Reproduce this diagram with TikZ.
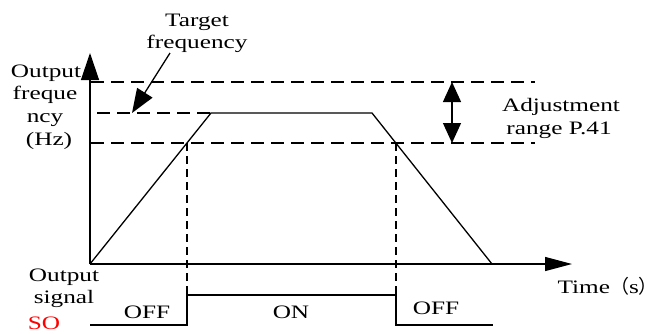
\documentclass[tikz,border=0pt]{standalone}
\usepackage{fontspec}
\setmainfont{Liberation Serif}[FakeStretch=1.33]
\newfontfamily\cjk{Noto Sans CJK SC}
\usetikzlibrary{arrows.meta}
\begin{document}
\begin{tikzpicture}[x=1pt,y=-1pt, line width=1.3pt,
  txt/.style={inner sep=0pt, anchor=base, font=\fontsize{19}{22}\selectfont},
  hdash/.style={dash pattern=on 13pt off 7pt},
  vdash/.style={dash pattern=on 8pt off 5pt},
  ]
\useasboundingbox (0,0) rectangle (659,333);
% coordinates
\coordinate (O) at (90,264);
\coordinate (ytip) at (90,53);
\coordinate (xtip) at (572,264);
\coordinate (t1) at (91,82);
\coordinate (t2) at (535,82);
\coordinate (m1) at (97,113);
\coordinate (R1) at (211,113);
\coordinate (R2) at (372,113);
\coordinate (E) at (492,264);
\coordinate (l1) at (91,143);
\coordinate (l2) at (535,143);
\coordinate (A) at (187,143);
\coordinate (B) at (396,143);
\coordinate (s0) at (90,325);
\coordinate (s1) at (187,325);
\coordinate (s2) at (187,295);
\coordinate (s3) at (396,295);
\coordinate (s4) at (396,325);
\coordinate (s5) at (493,325);
\coordinate (ta) at (170,53);
\coordinate (tb) at (132,113);
\coordinate (da) at (452,82);
\coordinate (db) at (452,143);
% axes
\draw[-{Triangle[length=27pt,width=18pt]}] (O) -- (ytip);
\draw[-{Triangle[length=27pt,width=14pt]}] (O) -- (xtip);
% dashed levels
\draw[hdash] (t1) -- (t2);
\draw[hdash] (m1) -- (R1);
\draw[hdash] (l1) -- (l2);
% frequency curve
\draw (O) -- (R1) -- (R2) -- (E);
% vertical dashed
\draw[vdash] (A) -- (s2);
\draw[vdash] (B) -- (s3);
% output signal
\draw (s0) -- (s1) -- (s2) -- (s3) -- (s4) -- (s5);
% arrows
\draw[-{Triangle[length=24pt,width=18pt]}] (ta) -- (tb);
\draw[{Triangle[length=20pt,width=18pt]}-{Triangle[length=20pt,width=18pt]}] (da) -- (db);
% texts
\node[txt] (tg1) at (197,26) {Target};
\node[txt] (tg2) at (197,48) {frequency};
\node[txt] (of1) at (46,77) {Output};
\node[txt] (of2) at (45,99) {freque};
\node[txt] (of3) at (45,122) {ncy};
\node[txt] (of4) at (49,145) {(Hz)};
\node[txt] (ad1) at (561,111) {Adjustment};
\node[txt] (ad2) at (559,134) {range P.41};
\node[txt] (os1) at (64,281) {Output};
\node[txt] (os2) at (64,303) {signal};
\node[txt, text=red] (so) at (44,329) {SO};
\node[txt] (off1) at (147,318) {OFF};
\node[txt] (on) at (291,318) {ON};
\node[txt] (off2) at (436,314) {OFF};
\node[txt, anchor=base west] (time) at (557,293) {Time{\cjk （}s{\cjk ）}};
\end{tikzpicture}
\end{document}
